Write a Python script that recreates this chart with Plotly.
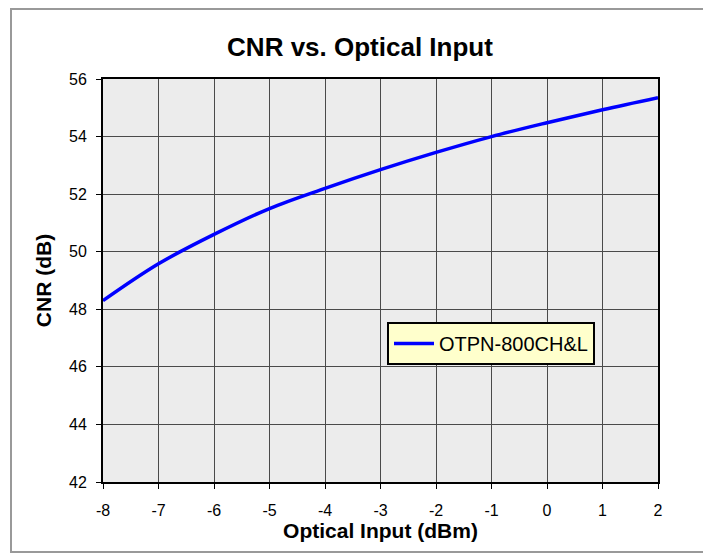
import plotly.graph_objects as go

optical_input = [-8, -7, -6, -5, -4, -3, -2, -1, 0, 1, 2]
cnr = [48.3, 49.58, 50.6, 51.5, 52.2, 52.85, 53.45, 54.0, 54.48, 54.93, 55.35]
y_ticks = [42, 44, 46, 48, 50, 52, 54, 56]
series_name = "OTPN-800CH&L"

OFF = 8  # page body margin
W, H = 703, 547
# plot area in screen coords: x 103..658, y 79..482
L, T = 103 - OFF, 79 - OFF
R, B = W - (658 - OFF), H - (482 - OFF)
pw, ph = W - L - R, H - T - B

def px(sx):
    return (sx - OFF - L) / pw

def py(sy):
    return (H - B - (sy - OFF)) / ph

fig = go.Figure()
fig.add_trace(go.Scatter(
    x=optical_input, y=cnr, mode="lines", name=series_name,
    line=dict(color="#0000ff", width=3.5, shape="spline"),
))

font = "Liberation Sans, Arial, sans-serif"
fig.update_layout(
    width=W, height=H,
    margin=dict(l=L, r=R, t=T, b=B),
    paper_bgcolor="white",
    plot_bgcolor="#ececec",
    font=dict(family=font, color="black"),
    title=dict(text="<b>CNR vs. Optical Input</b>", x=(360 - OFF) / W, xref="container",
               y=1 - (47 - OFF) / H, yref="container", xanchor="center", yanchor="middle",
               font=dict(size=26, family=font)),
    showlegend=True,
    legend=dict(x=px(387), y=py(322), xanchor="left", yanchor="top",
                bgcolor="#ffffcc", bordercolor="black", borderwidth=2,
                font=dict(size=20, family=font), itemwidth=40),
    xaxis=dict(range=[-8, 2], tickmode="array", tickvals=optical_input,
               ticktext=[str(v) for v in optical_input], showgrid=True,
               gridcolor="#4a4a4a", gridwidth=1, showline=True, linecolor="black",
               linewidth=2, mirror=True, ticks="outside", ticklen=5, tickcolor="black",
               tickfont=dict(size=16), zeroline=False, ticklabelstandoff=8,
               title=dict(text="<b>Optical Input (dBm)</b>", font=dict(size=21), standoff=5)),
    yaxis=dict(range=[42, 56], tickmode="array", tickvals=y_ticks,
               ticktext=[str(v) for v in y_ticks], showgrid=True,
               gridcolor="#4a4a4a", gridwidth=1, showline=True, linecolor="black",
               linewidth=2, mirror=True, ticks="outside", ticklen=5, tickcolor="black",
               tickfont=dict(size=16), zeroline=False, ticklabelstandoff=6,
               title=dict(text="<b>CNR (dB)</b>", font=dict(size=21), standoff=12)),
    shapes=[dict(type="rect", xref="paper", yref="paper",
                 x0=px(11), x1=px(706), y0=py(552), y1=py(9),
                 line=dict(color="#999999", width=2), layer="below")],
)

fig.write_html("out.html")
